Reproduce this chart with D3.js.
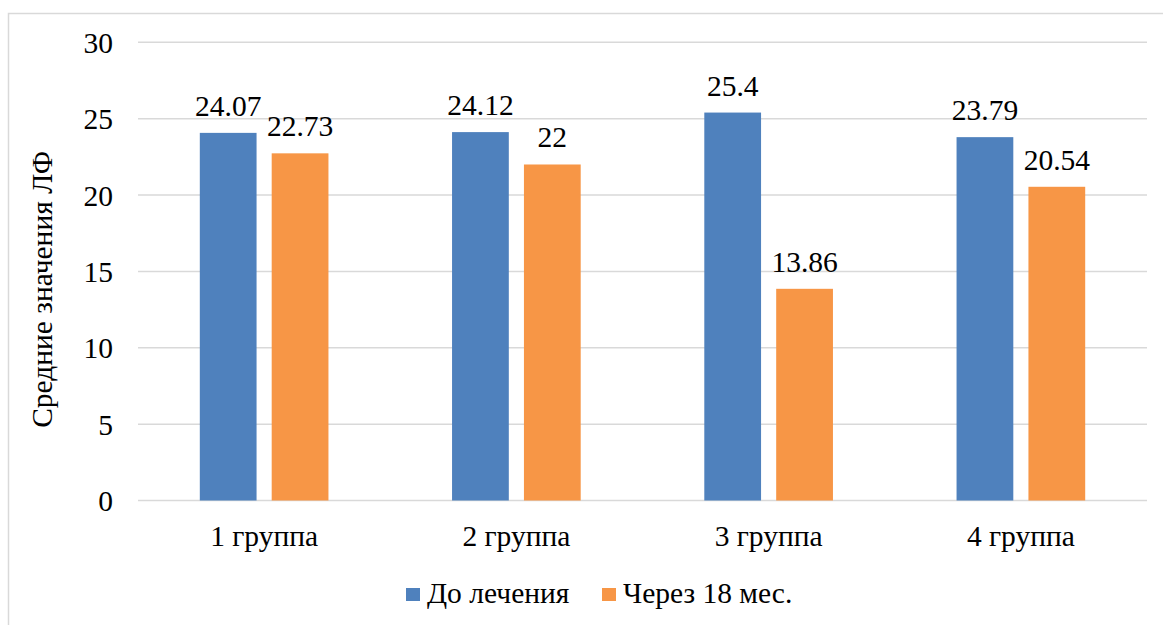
<!DOCTYPE html>
<html>
<head>
<meta charset="utf-8">
<script src="https://cdn.jsdelivr.net/npm/d3@7"></script>
<style>
  html, body { margin: 0; padding: 0; background: #fff; }
  svg { display: block; }
</style>
</head>
<body>
<svg id="chart" width="1163" height="625"></svg>
<script>
const categories = ["1 группа", "2 группа", "3 группа", "4 группа"];
const seriesNames = ["До лечения", "Через 18 мес."];
const beforeValues = [24.07, 24.12, 25.4, 23.79];
const afterValues = [22.73, 22, 13.86, 20.54];
const yTicks = [0, 5, 10, 15, 20, 25, 30];
const colors = ["#4F81BD", "#F79646"];

const FONT = "Liberation Serif";
const FS = 29.5;

const svg = d3.select("#chart")
  .attr("font-family", FONT).attr("font-size", FS);
const W = 1163, H = 625;
const plot = { left: 138, right: 1147, top: 42.3, bottom: 500.5 };

// chart area frame
svg.append("rect")
  .attr("x", 8.5).attr("y", 13.5)
  .attr("width", W + 10).attr("height", H + 10)
  .attr("fill", "none").attr("stroke", "#d9d9d9").attr("stroke-width", 1.5);

const x = d3.scaleBand().domain(categories).range([plot.left, plot.right]);
const y = d3.scaleLinear().domain([0, 30]).range([plot.bottom, plot.top]);

const barW = x.bandwidth() * 0.225;
const gap = x.bandwidth() * 0.06;
const x1 = d3.scaleOrdinal().domain([0, 1])
  .range([-gap / 2 - barW, gap / 2]);

// gridlines
svg.append("g").selectAll("line").data(yTicks).join("line")
  .attr("x1", plot.left).attr("x2", plot.right)
  .attr("y1", d => y(d)).attr("y2", d => y(d))
  .attr("stroke", "#d9d9d9").attr("stroke-width", 1.5);

// y axis labels
const yAxis = d3.axisLeft(y).tickValues(yTicks).tickSize(0).tickPadding(0);
const yG = svg.append("g").attr("transform", `translate(113,0)`).call(yAxis)
  .attr("font-family", FONT).attr("font-size", FS);
yG.select(".domain").remove();
yG.selectAll("text").attr("fill", "#000").attr("dy", "0.34em");

// x axis labels
const xAxis = d3.axisBottom(x).tickSize(0).tickPadding(0);
const xG = svg.append("g").attr("transform", `translate(0,${plot.bottom})`).call(xAxis)
  .attr("font-family", FONT).attr("font-size", FS);
xG.select(".domain").remove();
xG.selectAll("text").attr("fill", "#000").attr("y", 45).attr("dy", 0);

// bars
const rows = categories.map((c, i) => ({ cat: c, vals: [beforeValues[i], afterValues[i]] }));
const groups = svg.append("g").selectAll("g").data(rows).join("g")
  .attr("transform", d => `translate(${x(d.cat) + x.bandwidth() / 2},0)`);

groups.selectAll("rect").data(d => d.vals.map((v, s) => ({ v, s }))).join("rect")
  .attr("x", d => x1(d.s)).attr("width", barW)
  .attr("y", d => y(d.v)).attr("height", d => y(0) - y(d.v))
  .attr("fill", d => colors[d.s]);

// value labels
groups.selectAll("text.val").data(d => d.vals.map((v, s) => ({ v, s }))).join("text")
  .attr("class", "val")
  .attr("x", d => x1(d.s) + barW / 2)
  .attr("y", d => y(d.v) - 17)
  .attr("text-anchor", "middle")
  .text(d => d.v);

// y axis title
svg.append("text")
  .attr("transform", `translate(52,${(plot.top + plot.bottom) / 2 + 18}) rotate(-90)`)
  .attr("text-anchor", "middle")
  .text("Средние значения ЛФ");

// legend
const legendItems = [{ x: 406, name: seriesNames[0], c: colors[0] }, { x: 602, name: seriesNames[1], c: colors[1] }];
const lg = svg.append("g").selectAll("g").data(legendItems).join("g");
lg.append("rect").attr("x", d => d.x).attr("y", 588).attr("width", 14).attr("height", 13).attr("fill", d => d.c);
lg.append("text").attr("x", d => d.x + 21).attr("y", 603)
  .text(d => d.name);
</script>
</body>
</html>
